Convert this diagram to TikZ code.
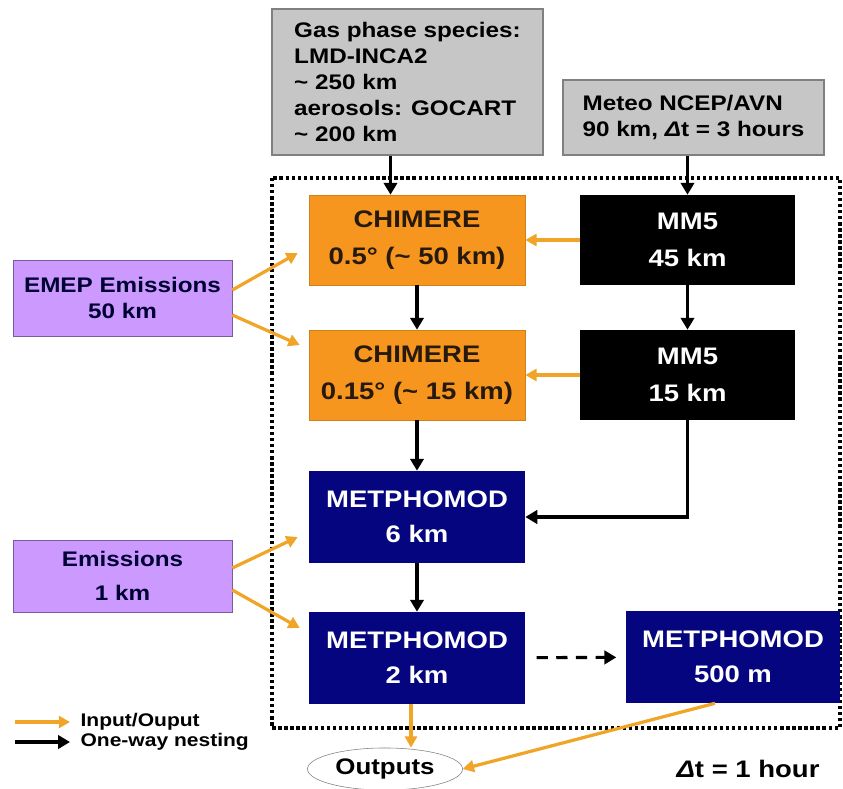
\documentclass[tikz,border=0pt]{standalone}
\usepackage{fontspec}
\setmainfont{Liberation Sans}[FakeStretch=1.15]
\usetikzlibrary{arrows.meta,calc,shapes.geometric}
\definecolor{gasgray}{RGB}{198,198,198}
\definecolor{chimorange}{RGB}{247,150,30}
\definecolor{metnavy}{RGB}{5,5,128}
\definecolor{emislila}{RGB}{204,153,255}
\definecolor{ioorange}{RGB}{240,165,40}
\begin{document}
\begin{tikzpicture}[x=0.025cm,y=-0.025cm,
      lineio/.style={line width=2.3pt,draw=ioorange,
        -{Triangle[length=8pt,width=8.5pt]}},
      linenest/.style={line width=2.2pt,draw=black,
        -{Triangle[length=8.5pt,width=9.5pt]}},
      boxbase/.style={rectangle, inner sep=0pt, align=center,
        font=\bfseries\fontsize{17}{26}\selectfont},
      boxgas/.style={boxbase, fill=gasgray, draw=gray, thick},
      boxchim/.style={boxbase, fill=chimorange, draw=chimorange!85!black,
        text=black!80!brown, minimum width=5.4cm, minimum height=2.25cm},
      boxmm/.style={boxbase, fill=black, text=white,
        minimum width=5.375cm, minimum height=2.25cm},
      boxmet/.style={boxbase, fill=metnavy, text=white,
        minimum width=5.4cm, minimum height=2.3cm},
      boxemis/.style={boxbase, fill=emislila, draw=emislila!60!black,
        text=black!80!blue, minimum width=5.475cm}
    ]
    \useasboundingbox (0,0) rectangle (843,789);
    % nesting domain
    \draw[line width=2.4pt, dash pattern=on 2.4pt off 1.9pt] (272,178) rectangle (840,728);
    \path (407.5,82) node(gas) [boxgas, align=left, minimum width=6.775cm,
        minimum height=3.65cm, font=\bfseries\fontsize{15}{18.5}\selectfont]
        {Gas phase species:\\LMD-INCA2\\\textasciitilde{} 250 km\\aerosols: GOCART\\\textasciitilde{} 200 km}
    (693.5,117.5) node(meteo) [boxgas, align=left, minimum width=6.525cm,
        minimum height=1.875cm, font=\bfseries\fontsize{15}{19}\selectfont]
        {Meteo NCEP/AVN\\90 km, {\itshape Δ}t = 3 hours}
    (417,240) node(chim1) [boxchim] {CHIMERE\\0.5° (\textasciitilde{} 50 km)}
    (687.5,240) node(mm5a) [boxmm] {MM5\\45 km}
    (417,375) node(chim2) [boxchim] {CHIMERE\\0.15° (\textasciitilde{} 15 km)}
    (687.5,375) node(mm5b) [boxmm] {MM5\\15 km}
    (417,517) node(met6) [boxmet, font=\bfseries\fontsize{17}{25}\selectfont] {METPHOMOD\\6 km}
    (417,658) node(met2) [boxmet, font=\bfseries\fontsize{17}{25}\selectfont] {METPHOMOD\\2 km}
    (733,657) node(met500) [boxmet, minimum width=5.325cm,
        font=\bfseries\fontsize{17}{25}\selectfont] {METPHOMOD\\500 m}
    (122.5,298) node(emep) [boxemis, minimum height=1.9cm,
        font=\bfseries\fontsize{15}{18}\selectfont] {EMEP Emissions\\50 km}
    (122.5,576) node(emis) [boxemis, minimum height=1.8cm,
        font=\bfseries\fontsize{15}{24}\selectfont] {Emissions\\1 km}
    (385,769) node(out) [ellipse, draw=gray, thin, minimum width=3.875cm,
        minimum height=1cm, font=\bfseries\fontsize{16}{19}\selectfont] {Outputs}
    (748,769) node(dt) [font=\bfseries\fontsize{17}{19}\selectfont] {{\itshape Δ}t = 1 hour};
    % one-way nesting
    \draw[linenest] ([xshift=-0.425cm]gas.south) -- ([xshift=-0.425cm]gas.south |- chim1.north);
    \draw[linenest] (meteo.south -| mm5a.north) -- (mm5a.north);
    \draw[linenest] (chim1) -- (chim2);
    \draw[linenest] (mm5a) -- (mm5b);
    \draw[linenest] (chim2) -- (met6);
    \draw[linenest] (met6) -- (met2);
    \draw[linenest] (mm5b.south) |- (met6.east);
    \draw[linenest, dash pattern=on 8pt off 6pt, shorten <=8pt, shorten >=7pt] (met2) -- (met500);
    % input/output
    \draw[lineio] (mm5a) -- (chim1);
    \draw[lineio] (mm5b) -- (chim2);
    \draw[lineio] ($(emep.east)+(0,-8)$) -- ($(chim1.west)+(-11,13)$);
    \draw[lineio] ($(emep.east)+(0,17)$) -- ($(chim2.west)+(-9,-30)$);
    \draw[lineio] ($(emis.east)+(0,-8)$) -- ($(met6.west)+(-11,20)$);
    \draw[lineio] ($(emis.east)+(0,14)$) -- ($(met2.west)+(-9,-30)$);
    \draw[lineio] ([xshift=-0.15cm]met2.south) -- ([xshift=-0.15cm]met2.south |- out.north);
    \draw[lineio] ([xshift=-0.45cm]met500.south) -- (out.east);
    % legend
    \coordinate (ioa) at (15,722);
    \coordinate (iob) at (70,722);
    \coordinate (nesta) at (15,742);
    \coordinate (nestb) at (70,742);
    \draw[lineio] (ioa) -- (iob);
    \draw[linenest] (nesta) -- (nestb);
    \path (iob) node(iolabel) [anchor=west, xshift=4pt, font=\bfseries\fontsize{13}{15}\selectfont] {Input/Ouput}
    (nestb) node(nestlabel) [anchor=west, xshift=4pt, font=\bfseries\fontsize{13}{15}\selectfont] {One-way nesting};
  \end{tikzpicture}
\end{document}
